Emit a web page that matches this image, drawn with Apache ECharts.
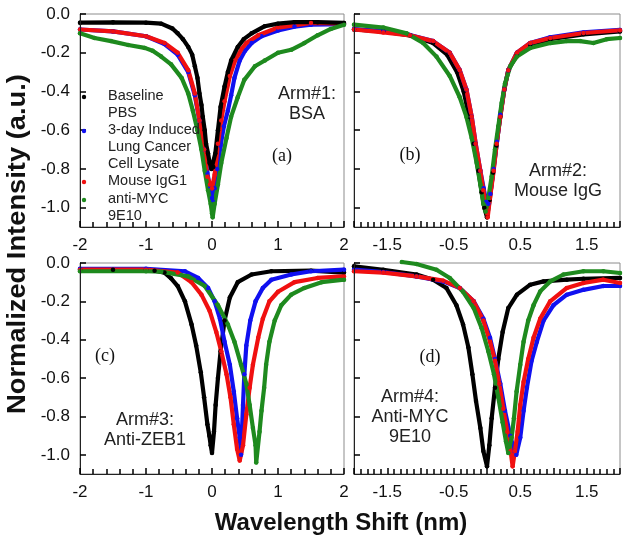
<!DOCTYPE html>
<html>
<head>
<meta charset="utf-8">
<script src="https://cdn.jsdelivr.net/npm/echarts@6/dist/echarts.min.js"></script>
<style>
html,body{margin:0;padding:0;background:#fff;}
#chart{width:629px;height:548px;}
</style>
</head>
<body>
<div id="chart"></div>
<script>
// ---------- DATA (wavelength shift nm, normalized intensity) ----------
const seriesNames = ['Baseline PBS', '3-day Induced Lung Cancer Cell Lysate', 'Mouse IgG1', 'anti-MYC 9E10'];
const panelLabels = ['(a)', '(b)', '(c)', '(d)'];
const armLabels = ['Arm#1:\nBSA', 'Arm#2:\nMouse IgG', 'Arm#3:\nAnti-ZEB1', 'Arm#4:\nAnti-MYC\n9E10'];
const xTicksAC = [-2, -1, 0, 1, 2];
const xTicksBD = [-1.5, -0.5, 0.5, 1.5];
const yTicks = [-1.0, -0.8, -0.6, -0.4, -0.2, 0.0];

// Panel (a) Arm#1: BSA
const a_black = [[-2,-0.045],[-1.5,-0.043],[-1,-0.045],[-0.77,-0.05],[-0.6,-0.075],[-0.52,-0.1],[-0.44,-0.13],[-0.36,-0.17],[-0.3,-0.21],[-0.26,-0.27],[-0.22,-0.33],[-0.19,-0.41],[-0.16,-0.47],[-0.14,-0.53],[-0.11,-0.6],[-0.09,-0.67],[-0.06,-0.72],[-0.035,-0.77],[-0.01,-0.8],[0.02,-0.79],[0.05,-0.72],[0.09,-0.6],[0.13,-0.48],[0.19,-0.375],[0.24,-0.3],[0.29,-0.24],[0.39,-0.17],[0.48,-0.13],[0.6,-0.1],[0.8,-0.063],[1,-0.05],[1.25,-0.042],[1.6,-0.042],[2,-0.046]];
const a_blue = [[-2,-0.08],[-1.5,-0.09],[-1,-0.115],[-0.72,-0.155],[-0.52,-0.21],[-0.36,-0.3],[-0.26,-0.42],[-0.19,-0.55],[-0.12,-0.7],[-0.07,-0.82],[-0.03,-0.9],[0,-0.95],[0.015,-0.97],[0.04,-0.9],[0.08,-0.8],[0.13,-0.68],[0.18,-0.58],[0.24,-0.5],[0.29,-0.42],[0.34,-0.33],[0.42,-0.24],[0.5,-0.19],[0.6,-0.15],[0.75,-0.115],[1,-0.085],[1.25,-0.065],[1.5,-0.055],[2,-0.052]];
const a_red = [[-2,-0.08],[-1.5,-0.09],[-1,-0.115],[-0.72,-0.15],[-0.52,-0.2],[-0.36,-0.29],[-0.26,-0.41],[-0.19,-0.55],[-0.12,-0.7],[-0.07,-0.84],[-0.03,-0.88],[0,-0.9],[0.04,-0.83],[0.09,-0.67],[0.14,-0.55],[0.19,-0.45],[0.27,-0.32],[0.35,-0.24],[0.45,-0.18],[0.52,-0.15],[0.7,-0.11],[1,-0.07],[1.5,-0.046],[2,-0.05]];
const a_green = [[-2,-0.1],[-1.78,-0.124],[-1.53,-0.14],[-1.27,-0.16],[-1.02,-0.175],[-0.9,-0.19],[-0.77,-0.22],[-0.62,-0.26],[-0.46,-0.33],[-0.36,-0.41],[-0.29,-0.5],[-0.22,-0.6],[-0.16,-0.7],[-0.11,-0.81],[-0.06,-0.91],[-0.02,-0.98],[0,-1.03],[0.01,-1.05],[0.04,-0.98],[0.09,-0.88],[0.14,-0.77],[0.22,-0.64],[0.29,-0.53],[0.39,-0.43],[0.49,-0.34],[0.65,-0.27],[0.8,-0.24],[1,-0.2],[1.2,-0.185],[1.4,-0.15],[1.6,-0.11],[1.8,-0.077],[2,-0.055]];

// Panel (b) Arm#2: Mouse IgG
const b_black = [[-2,-0.08],[-1.56,-0.09],[-1.16,-0.11],[-0.81,-0.15],[-0.6,-0.21],[-0.45,-0.3],[-0.35,-0.4],[-0.27,-0.53],[-0.2,-0.67],[-0.13,-0.81],[-0.08,-0.92],[-0.04,-1.0],[0,-1.05],[0.04,-0.96],[0.09,-0.82],[0.14,-0.68],[0.2,-0.53],[0.26,-0.39],[0.32,-0.29],[0.45,-0.21],[0.65,-0.16],[0.95,-0.13],[1.45,-0.105],[2,-0.09]];
const b_blue = [[-2,-0.078],[-1.56,-0.09],[-1.16,-0.108],[-0.81,-0.14],[-0.56,-0.2],[-0.41,-0.29],[-0.31,-0.39],[-0.23,-0.53],[-0.17,-0.67],[-0.1,-0.81],[-0.05,-0.9],[-0.01,-0.97],[0.02,-0.98],[0.05,-0.93],[0.1,-0.8],[0.15,-0.66],[0.2,-0.52],[0.26,-0.39],[0.32,-0.29],[0.45,-0.2],[0.65,-0.15],[0.95,-0.12],[1.45,-0.095],[2,-0.082]];
const b_red = [[-2,-0.08],[-1.56,-0.095],[-1.16,-0.11],[-0.81,-0.14],[-0.56,-0.2],[-0.41,-0.29],[-0.31,-0.39],[-0.23,-0.53],[-0.17,-0.67],[-0.1,-0.81],[-0.055,-0.91],[0,-1.02],[0.01,-1.05],[0.045,-0.95],[0.1,-0.81],[0.145,-0.67],[0.2,-0.53],[0.26,-0.39],[0.32,-0.29],[0.45,-0.2],[0.65,-0.15],[0.95,-0.124],[1.45,-0.098],[2,-0.084]];
const b_green = [[-2,-0.055],[-1.56,-0.07],[-1.21,-0.1],[-0.96,-0.15],[-0.76,-0.22],[-0.56,-0.32],[-0.41,-0.43],[-0.31,-0.53],[-0.23,-0.64],[-0.155,-0.77],[-0.1,-0.88],[-0.055,-0.98],[-0.02,-1.02],[0.02,-0.95],[0.07,-0.84],[0.12,-0.7],[0.17,-0.58],[0.22,-0.46],[0.27,-0.36],[0.35,-0.27],[0.45,-0.22],[0.65,-0.175],[0.95,-0.15],[1.2,-0.14],[1.4,-0.14],[1.6,-0.15],[1.8,-0.13],[2,-0.124]];

// Panel (c) Arm#3: Anti-ZEB1
const c_black = [[-2,-0.035],[-1.5,-0.035],[-1,-0.035],[-0.87,-0.04],[-0.72,-0.05],[-0.62,-0.08],[-0.52,-0.12],[-0.41,-0.2],[-0.31,-0.32],[-0.24,-0.43],[-0.17,-0.57],[-0.12,-0.7],[-0.07,-0.84],[-0.04,-0.9],[-0.02,-0.95],[0,-0.99],[0.03,-0.88],[0.055,-0.74],[0.09,-0.6],[0.13,-0.46],[0.19,-0.3],[0.27,-0.18],[0.39,-0.1],[0.6,-0.06],[0.9,-0.043],[1.5,-0.04],[2,-0.05]];
const c_blue = [[-2,-0.03],[-1,-0.03],[-0.41,-0.043],[-0.21,-0.078],[-0.06,-0.13],[0.04,-0.2],[0.12,-0.29],[0.19,-0.41],[0.27,-0.53],[0.33,-0.67],[0.38,-0.81],[0.42,-0.91],[0.44,-1.0],[0.47,-0.74],[0.49,-0.58],[0.52,-0.43],[0.58,-0.3],[0.66,-0.2],[0.77,-0.13],[0.9,-0.087],[1.2,-0.06],[1.5,-0.043],[2,-0.035]];
const c_red = [[-2,-0.035],[-1,-0.035],[-0.52,-0.05],[-0.31,-0.1],[-0.16,-0.165],[-0.035,-0.25],[0.065,-0.36],[0.14,-0.46],[0.22,-0.58],[0.28,-0.7],[0.33,-0.84],[0.38,-0.97],[0.42,-1.03],[0.47,-0.95],[0.52,-0.79],[0.57,-0.65],[0.62,-0.53],[0.7,-0.39],[0.77,-0.29],[0.87,-0.2],[1.0,-0.15],[1.25,-0.1],[1.6,-0.078],[2,-0.07]];
const c_green = [[-2,-0.043],[-1,-0.043],[-0.77,-0.045],[-0.36,-0.07],[-0.11,-0.12],[0.09,-0.22],[0.24,-0.32],[0.34,-0.41],[0.44,-0.53],[0.52,-0.63],[0.57,-0.74],[0.62,-0.86],[0.66,-0.95],[0.67,-1.04],[0.72,-0.88],[0.75,-0.77],[0.79,-0.65],[0.82,-0.53],[0.87,-0.41],[0.95,-0.3],[1.05,-0.22],[1.2,-0.165],[1.4,-0.13],[1.66,-0.1],[2,-0.087]];

// Panel (d) Arm#4: Anti-MYC 9E10
const d_black = [[-2,-0.017],[-1.56,-0.035],[-1.06,-0.06],[-0.81,-0.087],[-0.61,-0.13],[-0.46,-0.22],[-0.36,-0.32],[-0.28,-0.44],[-0.22,-0.58],[-0.165,-0.72],[-0.1,-0.86],[-0.055,-0.98],[0,-1.06],[0.035,-0.95],[0.07,-0.81],[0.12,-0.65],[0.17,-0.5],[0.235,-0.36],[0.32,-0.235],[0.45,-0.165],[0.65,-0.113],[0.85,-0.096],[1.2,-0.087],[1.45,-0.082],[2,-0.078]];
const d_blue = [[-2,-0.035],[-1.56,-0.047],[-1.06,-0.07],[-0.66,-0.096],[-0.41,-0.13],[-0.2,-0.2],[-0.055,-0.29],[0.045,-0.39],[0.12,-0.5],[0.2,-0.63],[0.27,-0.77],[0.35,-0.9],[0.41,-0.98],[0.44,-1.0],[0.5,-0.91],[0.55,-0.77],[0.6,-0.65],[0.67,-0.51],[0.75,-0.41],[0.85,-0.3],[1.0,-0.22],[1.2,-0.165],[1.45,-0.14],[1.75,-0.12],[2,-0.12]];
const d_red = [[-2,-0.043],[-1.56,-0.05],[-1.06,-0.07],[-0.66,-0.092],[-0.41,-0.13],[-0.2,-0.2],[-0.055,-0.3],[0.045,-0.41],[0.12,-0.51],[0.185,-0.63],[0.245,-0.76],[0.305,-0.88],[0.355,-0.98],[0.385,-1.06],[0.42,-0.98],[0.46,-0.88],[0.5,-0.74],[0.55,-0.62],[0.62,-0.5],[0.7,-0.39],[0.8,-0.29],[0.95,-0.2],[1.2,-0.13],[1.45,-0.104],[1.75,-0.087],[2,-0.104]];
const d_green = [[-1.28,0.005],[-1.06,-0.005],[-0.76,-0.035],[-0.56,-0.078],[-0.36,-0.15],[-0.2,-0.235],[-0.08,-0.34],[0.02,-0.46],[0.105,-0.58],[0.17,-0.7],[0.235,-0.83],[0.285,-0.93],[0.32,-0.99],[0.37,-0.91],[0.405,-0.81],[0.445,-0.67],[0.5,-0.53],[0.55,-0.41],[0.62,-0.3],[0.7,-0.22],[0.8,-0.148],[0.95,-0.096],[1.15,-0.06],[1.45,-0.043],[1.75,-0.043],[2,-0.052]];

// ---------- STYLE / LAYOUT ----------
const FONT = "'Liberation Sans', Arial, sans-serif";
const colors = { black: '#000000', blue: '#1010f0', red: '#f01010', green: '#1e8a1e' };
const grids = [
  { left: 80, top: 14, width: 264, height: 213 },
  { left: 354, top: 14, width: 266, height: 213 },
  { left: 80, top: 263, width: 264, height: 211 },
  { left: 354, top: 263, width: 266, height: 211 }
];
const panels = [
  { order: [['blue', a_blue], ['red', a_red], ['black', a_black], ['green', a_green]] },
  { order: [['black', b_black], ['blue', b_blue], ['red', b_red], ['green', b_green]] },
  { order: [['black', c_black], ['blue', c_blue], ['red', c_red], ['green', c_green]] },
  { order: [['black', d_black], ['blue', d_blue], ['red', d_red], ['green', d_green]] }
];
const nameByColor = { black: seriesNames[0], blue: seriesNames[1], red: seriesNames[2], green: seriesNames[3] };

const xAxes = grids.map((g, i) => {
  const ac = (i === 0 || i === 2);
  const shown = ac ? xTicksAC : xTicksBD;
  return {
    gridIndex: i, type: 'value', min: -2, max: 2, interval: ac ? 1 : 0.5, z: 10,
    axisLine: { show: true, onZero: false, lineStyle: { color: '#222', width: 1 } },
    axisTick: { show: true, inside: true, length: 6, lineStyle: { color: '#000', width: 1.5 } },
    minorTick: { show: true, splitNumber: 5, length: 5, lineStyle: { color: '#000', width: 1.5 } },
    splitLine: { show: false },
    axisLabel: {
      show: true, fontFamily: FONT, fontSize: 17, color: '#111', margin: 10,
      showMinLabel: true, showMaxLabel: true,
      formatter: v => (shown.some(s => Math.abs(s - v) < 1e-6) ? String(v) : '')
    }
  };
});
const yAxes = grids.map((g, i) => {
  const left = (i === 0 || i === 2);
  return {
    gridIndex: i, type: 'value', min: -1.1, max: 0, z: 10,
    axisLine: { show: true, onZero: false, lineStyle: { color: '#222', width: 1 } },
    axisTick: { show: true, inside: true, length: 6, customValues: yTicks, lineStyle: { color: '#000', width: 1.5 } },
    splitLine: { show: false },
    axisLabel: {
      show: left, fontFamily: FONT, fontSize: 17, color: '#111', margin: 10,
      customValues: yTicks,
      formatter: v => Number(v).toFixed(1)
    }
  };
});

const series = [];
panels.forEach((p, i) => {
  p.order.forEach(([c, data]) => {
    series.push({
      type: 'line', name: nameByColor[c], xAxisIndex: i, yAxisIndex: i,
      data: data, clip: false,
      symbol: 'circle', symbolSize: 4.5, showSymbol: true,
      itemStyle: { color: colors[c] },
      lineStyle: { color: colors[c], width: 4.2, cap: 'round', join: 'round' },
      emphasis: { disabled: true }
    });
  });
});

const legendRows = [
  { y: 96, text: 'Baseline', dot: 'black' },
  { y: 113, text: 'PBS' },
  { y: 130, text: '3-day Induced', dot: 'blue' },
  { y: 147, text: 'Lung Cancer' },
  { y: 164, text: 'Cell Lysate' },
  { y: 181, text: 'Mouse IgG1', dot: 'red' },
  { y: 199, text: 'anti-MYC', dot: 'green' },
  { y: 216, text: '9E10' }
];
const graphics = [];
legendRows.forEach(r => {
  graphics.push({ type: 'text', x: 108, y: r.y, z: 100,
    style: { text: r.text, font: '14.5px ' + FONT, fill: '#222', textVerticalAlign: 'middle' } });
  if (r.dot) graphics.push({ type: 'circle', shape: { cx: 84, cy: r.y + 1, r: 2.2 }, z: 100,
    style: { fill: colors[r.dot] } });
});
const armPos = [[307, 104], [558, 181], [145, 430], [410, 417]];
armLabels.forEach((t, i) => {
  graphics.push({ type: 'text', x: armPos[i][0], y: armPos[i][1], z: 100,
    style: { text: t, font: '18px ' + FONT, fill: '#222', textAlign: 'center', textVerticalAlign: 'middle', lineHeight: 20 } });
});
const panelPos = [[282, 156], [410, 155], [105, 356], [430, 357]];
panelLabels.forEach((t, i) => {
  graphics.push({ type: 'text', x: panelPos[i][0], y: panelPos[i][1], z: 100,
    style: { text: t, font: "18px 'Liberation Serif', 'Times New Roman', serif", fill: '#111', textAlign: 'center', textVerticalAlign: 'middle' } });
});
graphics.push({ type: 'text', x: 18, y: 244, rotation: Math.PI / 2, scaleX: 1.05, z: 100,
  style: { text: 'Normalized Intensity (a.u.)', font: 'bold 26px ' + FONT, fill: '#111', textAlign: 'center', textVerticalAlign: 'middle' } });
graphics.push({ type: 'text', x: 341, y: 523, z: 100,
  style: { text: 'Wavelength Shift (nm)', font: 'bold 24px ' + FONT, fill: '#111', textAlign: 'center', textVerticalAlign: 'middle' } });

const chart = echarts.init(document.getElementById('chart'), null, { renderer: 'canvas' });
chart.setOption({
  animation: false,
  backgroundColor: '#ffffff',
  grid: grids.map(g => Object.assign({ show: true, borderColor: '#8c8c8c', borderWidth: 1, backgroundColor: 'transparent' }, g)),
  xAxis: xAxes,
  yAxis: yAxes,
  series: series,
  graphic: graphics
});
</script>
</body>
</html>
